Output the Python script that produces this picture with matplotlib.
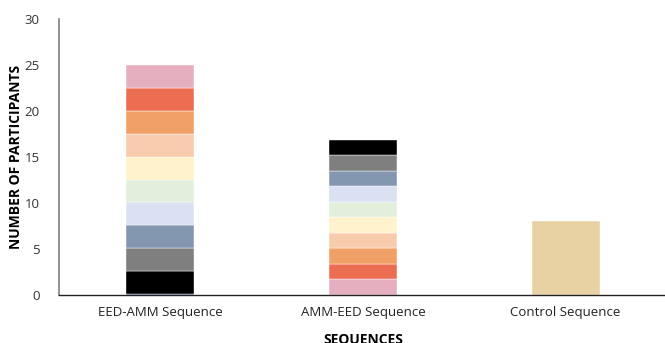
import matplotlib
matplotlib.use("Agg")
import matplotlib.pyplot as plt

categories = ["EED-AMM Sequence", "AMM-EED Sequence", "Control Sequence"]

# stacked segments, bottom to top
eed_amm_values = [0.15, 2.48, 2.48, 2.48, 2.48, 2.48, 2.48, 2.48, 2.48, 2.48, 2.48]
eed_amm_colors = ["#2F5597", "#000000", "#7F7F7F", "#8497B0", "#D9E1F2", "#E2EFDA",
                  "#FFF2CC", "#F8CBAD", "#F0A066", "#ED6D52", "#E6AFC0"]
amm_eed_values = [1.69, 1.69, 1.69, 1.69, 1.69, 1.69, 1.69, 1.69, 1.69, 1.69]
amm_eed_colors = ["#E6AFC0", "#ED6D52", "#F0A066", "#F8CBAD", "#FFF2CC", "#E2EFDA",
                  "#D9E1F2", "#8497B0", "#7F7F7F", "#000000"]
control_values = [8.05]
control_colors = ["#E8D2A3"]

y_ticks = [0, 5, 10, 15, 20, 25, 30]

plt.rcParams['font.family'] = ['Open Sans', 'DejaVu Sans']

fig = plt.figure(figsize=(6.65, 3.43), dpi=100)
ax = fig.add_axes([59/665, 48/343, (667-59)/665, (295-19)/343])

stacks = [(eed_amm_values, eed_amm_colors), (amm_eed_values, amm_eed_colors),
          (control_values, control_colors)]
width = 0.335
for i, (vals, cols) in enumerate(stacks):
    bottom = 0
    for v, c in zip(vals, cols):
        ax.bar(i, v, width, bottom=bottom, color=c, edgecolor="white", linewidth=0.3, zorder=2)
        bottom += v

ax.set_xlim(-0.5, 2.5)
ax.set_ylim(0, 30)
ax.set_yticks(y_ticks)
ax.set_xticks(range(len(categories)))
ax.set_xticklabels(categories, fontsize=9.5, color="#222222")
ax.tick_params(axis='y', labelsize=9.5, colors="#333333", length=0, pad=14)
ax.tick_params(axis='x', length=0, pad=8)

for s in ["top", "right"]:
    ax.spines[s].set_visible(False)
ax.spines["left"].set_color("#808080")
ax.spines["left"].set_linewidth(1.2)
ax.spines["bottom"].set_color("#222222")
ax.spines["bottom"].set_linewidth(1.0)

ax.set_ylabel("NUMBER OF PARTICIPANTS", fontsize=10, fontweight="bold", labelpad=1)
ax.set_xlabel("SEQUENCES", fontsize=10, fontweight="bold", labelpad=10)

fig.savefig("out.png", dpi=100)
